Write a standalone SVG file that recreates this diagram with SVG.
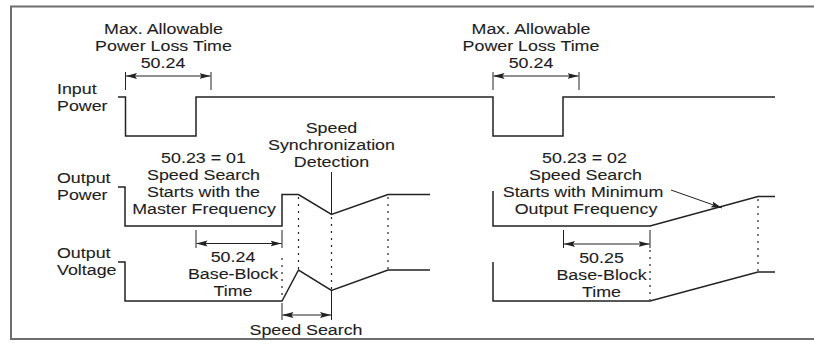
<svg xmlns="http://www.w3.org/2000/svg" width="814" height="348" viewBox="0 0 814 348">
<style>
text{font-family:"Liberation Sans",Arial,sans-serif;font-size:15px;fill:#1e1e1e;stroke:#1e1e1e;stroke-width:0.1}
.m{text-anchor:middle}
.w{fill:none;stroke:#222;stroke-width:1.5;stroke-linejoin:miter}
.t{fill:none;stroke:#222;stroke-width:1}
.d{fill:none;stroke:#222;stroke-width:1.2;stroke-dasharray:2 5}
.a{fill:none;stroke:#222;stroke-width:1;marker-start:url(#ah);marker-end:url(#ah)}
.b{fill:none;stroke:#6e6e6e;stroke-width:2}
</style>
<defs>
<marker id="ah" viewBox="0 0 11 7" refX="11" refY="3.5" markerWidth="11" markerHeight="7" markerUnits="userSpaceOnUse" orient="auto-start-reverse">
<path d="M0,0.5 L11,3.5 L0,6.5 L2,3.5 z" fill="#222"/>
</marker>
</defs>
<g id="frame">
<line class="b" x1="10" y1="6.5" x2="814" y2="6.5"/>
<line class="b" x1="11" y1="6" x2="11" y2="339"/>
<line class="b" x1="10" y1="339" x2="814" y2="339" stroke="#9a9a9a"/>
</g>
<g id="labels">
<text transform="translate(57,94) scale(1.19,1)">Input</text>
<text transform="translate(57,111) scale(1.19,1)">Power</text>
<text transform="translate(57,182.5) scale(1.19,1)">Output</text>
<text transform="translate(57,199.5) scale(1.19,1)">Power</text>
<text transform="translate(57,257.5) scale(1.19,1)">Output</text>
<text transform="translate(57,274.5) scale(1.19,1)">Voltage</text>
</g>
<g id="waveforms">
<path class="w" d="M118,97 H125.5 V136 H196 V97 H493 V136 H563 V97 H775"/>
<path class="w" d="M118,187 H125 V226 H282 V194.5 H298.5 L331.5,214.5 L388,194.5 H430"/>
<path class="w" d="M118,262 H125 V301 H282 L298.5,270 L331.5,290.5 L388,270 H430"/>
<path class="w" d="M493,191 V226 H650 L758,196.5 H775"/>
<path class="w" d="M493,262 V301 H650 L758,272 H775"/>
</g>
<g id="connectors">
<path class="d" d="M282,258 V300 M298.5,197 V270 M331.5,217 V290 M388,197 V270 M650,250 V300 M758,199 V272"/>
<path class="t" d="M125.5,72 V90 M211,72 V90 M493,72 V90 M579,72 V90 M196,230 V248 M282,230 V248 M563.5,230 V248 M650,230 V248 M282,303 V320 M331.5,291 V320 M331.5,172 V214"/>
<line class="a" x1="126" y1="76" x2="210.5" y2="76"/>
<line class="a" x1="493.5" y1="76" x2="578.5" y2="76"/>
<line class="a" x1="196.5" y1="243.5" x2="281.5" y2="243.5"/>
<line class="a" x1="564" y1="244" x2="649.5" y2="244"/>
<line class="a" x1="282.5" y1="315" x2="331" y2="315"/>
<line class="t" x1="671" y1="190" x2="722" y2="208" style="marker-end:url(#ah)"/>
</g>
<g id="loss1">
<text class="m" transform="translate(163.5,34) scale(1.19,1)">Max. Allowable</text>
<text class="m" transform="translate(163.5,51) scale(1.19,1)">Power Loss Time</text>
<text class="m" transform="translate(163,68) scale(1.19,1)">50.24</text>
</g>
<g id="loss2">
<text class="m" transform="translate(531,34) scale(1.19,1)">Max. Allowable</text>
<text class="m" transform="translate(531,51) scale(1.19,1)">Power Loss Time</text>
<text class="m" transform="translate(531,68) scale(1.19,1)">50.24</text>
</g>
<g id="mode01">
<text class="m" transform="translate(203.5,163) scale(1.19,1)">50.23 = 01</text>
<text class="m" transform="translate(203.5,180) scale(1.19,1)">Speed Search</text>
<text class="m" transform="translate(203.5,197) scale(1.19,1)">Starts with the</text>
<text class="m" transform="translate(204,214) scale(1.19,1)">Master Frequency</text>
</g>
<g id="sync">
<text class="m" transform="translate(331.5,132.5) scale(1.19,1)">Speed</text>
<text class="m" transform="translate(331.5,149.5) scale(1.19,1)">Synchronization</text>
<text class="m" transform="translate(331.5,166.5) scale(1.19,1)">Detection</text>
</g>
<g id="bb1">
<text class="m" transform="translate(233,262) scale(1.19,1)">50.24</text>
<text class="m" transform="translate(233,279) scale(1.19,1)">Base-Block</text>
<text class="m" transform="translate(233,296) scale(1.19,1)">Time</text>
</g>
<g id="search">
<text class="m" transform="translate(306,335) scale(1.19,1)">Speed Search</text>
</g>
<g id="mode02">
<text class="m" transform="translate(584.5,163) scale(1.19,1)">50.23 = 02</text>
<text class="m" transform="translate(585.5,180) scale(1.19,1)">Speed Search</text>
<text class="m" transform="translate(583,197) scale(1.19,1)">Starts with Minimum</text>
<text class="m" transform="translate(586,214) scale(1.19,1)">Output Frequency</text>
</g>
<g id="bb2">
<text class="m" transform="translate(601.5,263) scale(1.19,1)">50.25</text>
<text class="m" transform="translate(601.5,280) scale(1.19,1)">Base-Block</text>
<text class="m" transform="translate(601.5,297) scale(1.19,1)">Time</text>
</g>
</svg>
